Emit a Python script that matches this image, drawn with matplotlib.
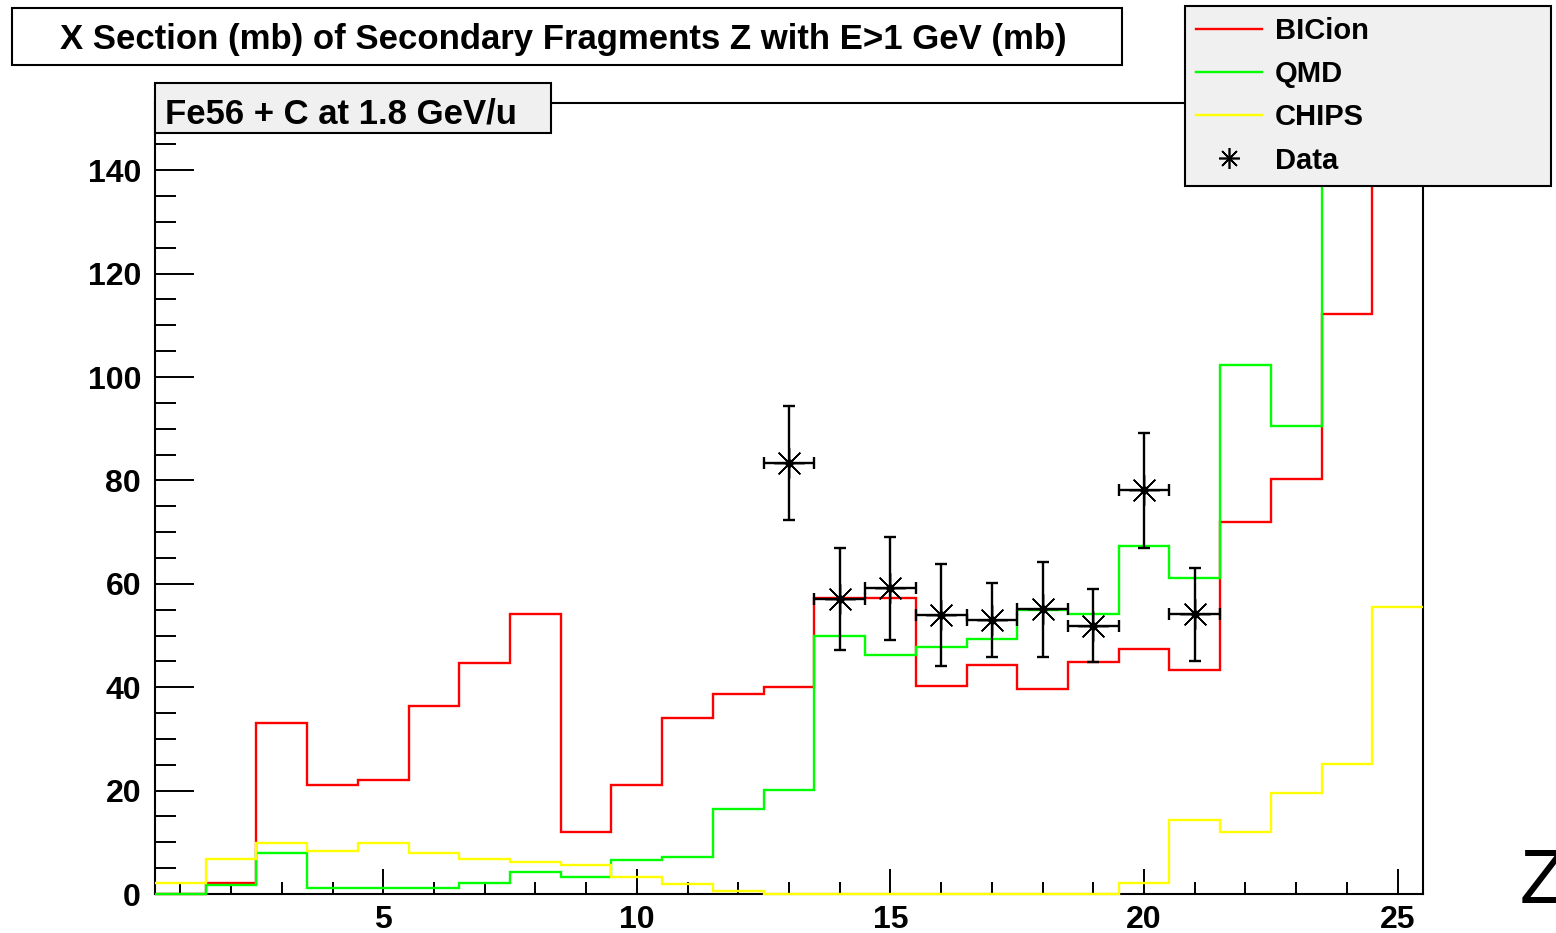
import matplotlib
matplotlib.use('Agg')
import matplotlib.pyplot as plt
from matplotlib.lines import Line2D
from matplotlib.patches import Rectangle
from matplotlib.ticker import MultipleLocator

W, H = 1556, 933

# fragment charge Z, one bin per integer
z_bins = list(range(1, 26))
bic_ion = [0, 2.2, 33.1, 21.1, 22.0, 36.4, 44.7, 54.1, 11.9, 21.1, 34.0, 38.6, 40.1,
           57.2, 57.2, 40.2, 44.2, 39.7, 44.8, 47.3, 43.3, 71.9, 80.3, 112.2, 190.0]
qmd = [0, 1.7, 7.9, 1.1, 1.1, 1.1, 2.2, 4.2, 3.2, 6.6, 7.1, 16.4, 20.1,
       49.9, 46.2, 47.8, 49.4, 55.0, 54.1, 67.3, 61.2, 102.3, 90.5, 200.0, 260.0]
chips = [2.2, 6.7, 9.8, 8.3, 9.8, 7.9, 6.7, 6.2, 5.7, 3.2, 2.0, 0.6, 0,
         0, 0, 0, 0, 0, 0, 2.2, 14.4, 11.9, 19.6, 25.1, 55.5]

# measured cross sections
data_z = [13, 14, 15, 16, 17, 18, 19, 20, 21]
data_val = [83.3, 57.0, 59.1, 54.0, 53.0, 55.1, 51.9, 78.1, 54.1]
data_err = [11.0, 9.9, 10.0, 9.9, 7.2, 9.2, 7.0, 11.1, 9.0]

edges = [z - 0.5 for z in z_bins] + [z_bins[-1] + 0.5]

plt.rcParams['font.family'] = ['Liberation Sans', 'DejaVu Sans']
plt.rcParams['font.weight'] = 'bold'


def fx(px):
    return px / W


def fy(py):
    return 1 - py / H


fig = plt.figure(figsize=(W / 100, H / 100), dpi=100)
ax = fig.add_axes([fx(155), fy(894), (1423 - 155) / W, (894 - 103) / H])

# clip box reaching a little below zero so flat bins sit on the axis line
clip = Rectangle((0, -0.006), 1, 1.006, transform=ax.transAxes, visible=False)
ax.add_patch(clip)

for vals, col, zo in [(bic_ion, '#ff0000', 3), (qmd, '#00ff00', 3.1), (chips, '#ffff00', 3.2)]:
    st = ax.stairs(vals, edges, baseline=None, color=col, lw=1.7, zorder=zo)
    st.set_clip_path(clip)

ax.errorbar(data_z, data_val, yerr=data_err, xerr=0.5, fmt='none', ecolor='black',
            elinewidth=1.7, capsize=4.5, capthick=1.7, zorder=5)
ax.plot(data_z, data_val, ls='none', marker=(8, 2, 0), ms=22, mew=1.0, color='black', zorder=6)
ax.plot(data_z, data_val, ls='none', marker='o', ms=5, color='black', zorder=6)

ax.set_xlim(0.5, 25.5)
ax.set_ylim(0, 153)
ax.xaxis.set_major_locator(MultipleLocator(5))
ax.xaxis.set_minor_locator(MultipleLocator(1))
ax.yaxis.set_major_locator(MultipleLocator(20))
ax.yaxis.set_minor_locator(MultipleLocator(5))
ax.tick_params(axis='x', which='major', direction='in', length=18, width=1.4, labelsize=23, pad=8)
ax.tick_params(axis='x', which='minor', direction='in', length=9, width=1.4)
ax.tick_params(axis='y', which='major', direction='in', length=28, width=1.4, labelsize=23, pad=10)
ax.tick_params(axis='y', which='minor', direction='in', length=15, width=1.4)
for lab in ax.get_xticklabels() + ax.get_yticklabels():
    lab.set_fontweight('bold')
for sp in ax.spines.values():
    sp.set_linewidth(1.5)

# title pave
fig.add_artist(Rectangle((fx(12), fy(65)), fx(1122) - fx(12), fy(8) - fy(65),
                         transform=fig.transFigure, facecolor='white', edgecolor='black',
                         lw=1.5, zorder=5))
fig.text(fx(563), fy(49), 'X Section (mb) of Secondary Fragments Z with E>1 GeV (mb)',
         ha='center', va='baseline', fontsize=25, fontweight='bold', zorder=6)

# reaction label pave
fig.add_artist(Rectangle((fx(155), fy(133)), fx(551) - fx(155), fy(83) - fy(133),
                         transform=fig.transFigure, facecolor='#f0f0f0', edgecolor='black',
                         lw=1.5, zorder=5))
fig.text(fx(165), fy(123), 'Fe56 + C at 1.8 GeV/u', ha='left', va='baseline',
         fontsize=25, fontweight='bold', zorder=6)

handles = [
    Line2D([], [], color='#ff0000', lw=1.7),
    Line2D([], [], color='#00ff00', lw=1.7),
    Line2D([], [], color='#ffff00', lw=1.7),
    Line2D([], [], ls='none', marker=(8, 2, 0), ms=15, mew=1.2, color='black'),
]
leg = fig.legend(handles, ['BICion', 'QMD', 'CHIPS', 'Data'], loc='upper left',
                 bbox_to_anchor=(fx(1185), fy(182), fx(1551) - fx(1185), fy(6) - fy(182)),
                 mode='expand', borderaxespad=0, fancybox=False, framealpha=1,
                 facecolor='#f0f0f0', edgecolor='black', prop={'size': 21, 'weight': 'bold'},
                 handlelength=2.25, handletextpad=0.45, labelspacing=0.52, borderpad=0.38)
leg.get_frame().set_linewidth(1.5)
leg.set_zorder(7)

fig.text(fx(1520), fy(903), 'Z', ha='left', va='baseline', fontsize=55, fontweight='normal')

fig.savefig('out.png', dpi=100)
